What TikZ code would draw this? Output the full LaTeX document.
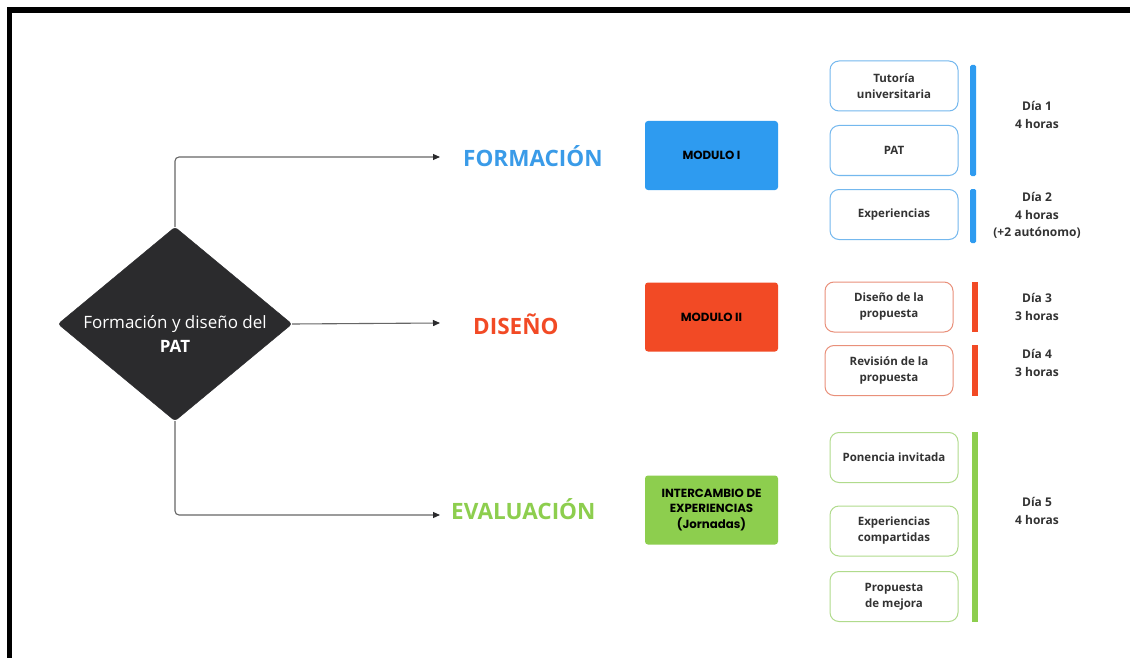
\documentclass[tikz,border=0pt]{standalone}
\usepackage{fontspec}
\setmainfont{Open Sans}
\newfontfamily\popp{Poppins}
\usetikzlibrary{shapes.geometric,arrows.meta}
\definecolor{cblue}{HTML}{2E9BF0}
\definecolor{cbluet}{HTML}{3A9BE8}
\definecolor{cbluel}{HTML}{74B8EE}
\definecolor{cred}{HTML}{F24A25}
\definecolor{credl}{HTML}{E9907A}
\definecolor{cgreen}{HTML}{8DCE4E}
\definecolor{cgreenl}{HTML}{B0DB8C}
\definecolor{cdark}{HTML}{2B2B2D}
\definecolor{ctext}{HTML}{333333}
\definecolor{cline}{HTML}{666666}
\tikzset{
  conn/.style={draw=cline, line width=1.1pt, rounded corners=4pt, -{Triangle[length=7pt,width=6pt]}, arrows={[color=cdark]}},
  biglabel/.style={font=\bfseries\fontsize{22.5}{26}\selectfont, inner sep=0pt, anchor=west},
  modbox/.style={rounded corners=3pt, minimum width=133pt, minimum height=69pt, inner sep=0pt, align=center, font=\popp\bfseries\fontsize{11.8}{15.5}\selectfont, text=black},
  itembox/.style={draw=#1, line width=1pt, rounded corners=9pt, minimum width=128pt, minimum height=50pt, inner sep=0pt, align=center, fill=white, text=ctext, font=\bfseries\fontsize{11.5}{16}\selectfont},
  daytext/.style={align=center, text=ctext, font=\bfseries\fontsize{12}{17.5}\selectfont, inner sep=0pt},
}
\begin{document}
\begin{tikzpicture}[x=1pt,y=-1pt]
\useasboundingbox (0,0) rectangle (1130,658);
\fill[white] (0,0) rectangle (1130,658);
% frame
\draw[line width=5.5pt, black] (9.5,670) -- (9.5,10) -- (1140,10);

% diamond
\node[diamond, fill=cdark, draw=cdark, rounded corners=3pt, aspect=1.206, minimum width=234pt, minimum height=194pt, inner sep=0pt] (dia) at (175,324) {};
\node[text=white, align=center, font=\fontsize{17}{24.5}\selectfont, inner sep=0pt] (diatext) at (175,334) {Formación y diseño del\\\textbf{PAT}};

% big labels
\node[biglabel, text=cbluet] (formacion) at (463,156) {FORMACIÓN};
\node[biglabel, text=cred] (diseno) at (473,324.5) {DISEÑO};
\node[biglabel, text=cgreen] (evaluacion) at (451,509.5) {EVALUACIÓN};

\coordinate (a1) at (440,157);
\coordinate (a2) at (440,323);
\coordinate (a3) at (440,515);

\draw[conn] (dia.north) |- (a1);
\draw[conn] (dia.east) -- (a2);
\draw[conn] (dia.south) |- (a3);

% module boxes
\node[modbox, fill=cblue] (m1) at (711.5,155.5) {MODULO I};
\node[modbox, fill=cred] (m2) at (711.5,317) {MODULO II};
\node[modbox, fill=cgreen] (m3) at (711.5,510) {INTERCAMBIO DE\\EXPERIENCIAS\\(Jornadas)};

% blue items
\node[itembox=cbluel] (b1) at (894,86) {Tutoría\\universitaria};
\node[itembox=cbluel] (b2) at (894,150.5) {PAT};
\node[itembox=cbluel] (b3) at (894,214.5) {Experiencias};
\fill[cblue, rounded corners=1.5pt] (970,65) rectangle (976,176);
\fill[cblue, rounded corners=1.5pt] (970,189) rectangle (976,243);
\node[daytext] (d1) at (1037,115) {Día 1\\4 horas};
\node[daytext] (d2) at (1037,215.5) {Día 2\\4 horas\\(+2 autónomo)};

% red items
\node[itembox=credl] (r1) at (889,307) {Diseño de la\\propuesta};
\node[itembox=credl] (r2) at (889,370.5) {Revisión de la\\propuesta};
\fill[cred] (972,282) rectangle (978,332);
\fill[cred] (972,345) rectangle (978,396);
\node[daytext] (d3) at (1037,307) {Día 3\\3 horas};
\node[daytext] (d4) at (1037,363) {Día 4\\3 horas};

% green items
\node[itembox=cgreenl] (g1) at (894,457.5) {Ponencia invitada};
\node[itembox=cgreenl] (g2) at (894,531) {Experiencias\\compartidas};
\node[itembox=cgreenl] (g3) at (894,596.5) {Propuesta\\de mejora};
\fill[cgreen] (972,432) rectangle (978,622);
\node[daytext] (d5) at (1037,511) {Día 5\\4 horas};
\end{tikzpicture}
\end{document}
